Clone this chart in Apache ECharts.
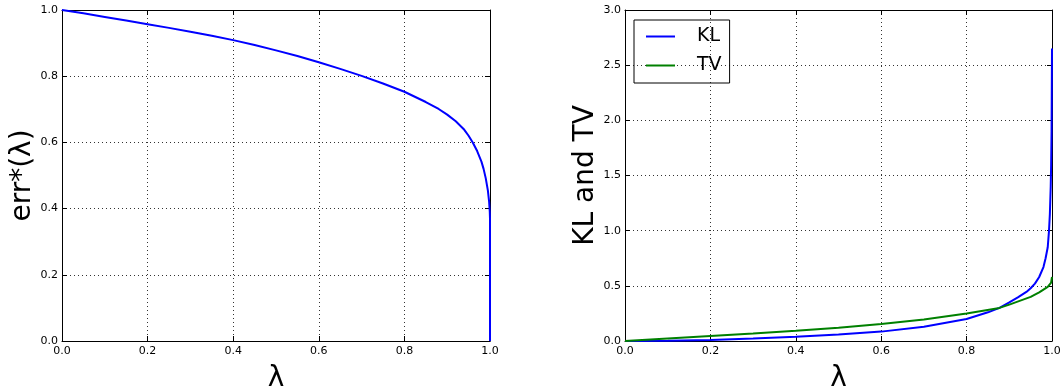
<!DOCTYPE html>
<html>
<head>
<meta charset="utf-8">
<script src="https://cdn.jsdelivr.net/npm/echarts@6/dist/echarts.min.js"></script>
<style>html,body{margin:0;padding:0;background:#fff}#c{width:1063px;height:391px}</style>
</head>
<body>
<div id="c"></div>
<script>
// Left panel: err*(lambda)
const errLambda = [0, 0.05, 0.1, 0.15, 0.2, 0.25, 0.3, 0.35, 0.4, 0.45, 0.5, 0.55, 0.6, 0.65, 0.7, 0.75, 0.8, 0.85, 0.88, 0.9, 0.92, 0.94, 0.95, 0.96, 0.97, 0.98, 0.985, 0.99, 0.995, 0.998, 0.9995, 1.0, 1.0];
const errValues = [1.0, 0.99, 0.979, 0.968, 0.957, 0.946, 0.934, 0.922, 0.909, 0.894, 0.878, 0.861, 0.842, 0.822, 0.801, 0.778, 0.753, 0.722, 0.701, 0.684, 0.664, 0.638, 0.62, 0.599, 0.574, 0.542, 0.52, 0.492, 0.455, 0.42, 0.39, 0.37, 0.0];
// Right panel: KL and TV
const klLambda = [0, 0.1, 0.2, 0.3, 0.4, 0.5, 0.6, 0.7, 0.8, 0.85, 0.877, 0.9, 0.92, 0.94, 0.95, 0.96, 0.97, 0.98, 0.985, 0.99, 0.993, 0.995, 0.997, 0.998, 0.999, 1.0];
const klValues = [0, 0.003, 0.01, 0.022, 0.039, 0.058, 0.085, 0.13, 0.2, 0.26, 0.30, 0.35, 0.395, 0.445, 0.478, 0.52, 0.58, 0.67, 0.75, 0.85, 1.0, 1.15, 1.4, 1.6, 1.9, 2.65];
const tvLambda = [0, 0.1, 0.2, 0.3, 0.4, 0.5, 0.6, 0.7, 0.8, 0.877, 0.9, 0.95, 0.97, 0.99, 0.998, 1.0];
const tvValues = [0, 0.022, 0.045, 0.068, 0.093, 0.12, 0.154, 0.195, 0.25, 0.30, 0.33, 0.40, 0.44, 0.49, 0.53, 0.58];
const xTicks = {min: 0, max: 1, interval: 0.2};
const yTicksLeft = {min: 0, max: 1, interval: 0.2};
const yTicksRight = {min: 0, max: 3, interval: 0.5};

const pairs = (xs, ys) => xs.map((x, i) => [x, ys[i]]);
const FONT = 'DejaVu Sans';
const lbl = {fontFamily: FONT, fontSize: 11, color: '#000'};
const nameStyle = {fontFamily: FONT, fontSize: 28, color: '#000'};
const gridLine = {show: true, lineStyle: {color: '#000', type: [1, 3], width: 1, opacity: 0.8}};
const axLine = {show: true, onZero: false, lineStyle: {color: '#000', width: 1}};
const tick = {show: true, inside: true, length: 5, lineStyle: {color: '#000'}};

function mainX(gi) {
  return {type: 'value', gridIndex: gi, ...xTicks, position: 'bottom',
    axisLine: axLine, axisTick: tick, splitLine: gridLine,
    axisLabel: {...lbl, margin: 5, formatter: v => v.toFixed(1)},
    name: 'λ', nameLocation: 'middle', nameGap: 24, nameTextStyle: nameStyle};
}
function topX(gi) {
  return {type: 'value', gridIndex: gi, ...xTicks, position: 'top',
    axisLine: axLine, axisTick: tick, splitLine: {show: false}, axisLabel: {show: false}};
}
function mainY(gi, t, name, gap) {
  return {type: 'value', gridIndex: gi, ...t, position: 'left',
    axisLine: axLine, axisTick: tick, splitLine: gridLine,
    axisLabel: {...lbl, margin: 4, formatter: v => v.toFixed(1)},
    name: name, nameLocation: 'middle', nameGap: gap, nameTextStyle: nameStyle};
}
function rightY(gi, t) {
  return {type: 'value', gridIndex: gi, ...t, position: 'right',
    axisLine: axLine, axisTick: tick, splitLine: {show: false}, axisLabel: {show: false}};
}

const chart = echarts.init(document.getElementById('c'), null, {renderer: 'canvas'});
chart.setOption({
  animation: false,
  backgroundColor: '#fff',
  grid: [
    {left: 62, right: 573, top: 10, bottom: 50, containLabel: false, outerBoundsMode: 'none'},
    {left: 625, right: 11, top: 10, bottom: 50, containLabel: false, outerBoundsMode: 'none'}
  ],
  xAxis: [mainX(0), topX(0), mainX(1), topX(1)],
  yAxis: [mainY(0, yTicksLeft, 'err*(λ)', 21), rightY(0, yTicksLeft),
          mainY(1, yTicksRight, 'KL and TV', 25), rightY(1, yTicksRight)],
  legend: {
    orient: 'vertical', left: 634, top: 20,
    data: ['KL', 'TV'],
    icon: 'rect', itemWidth: 29, itemHeight: 2, itemGap: 10,
    borderColor: '#000', borderWidth: 1, borderRadius: 0,
    padding: [7, 8, 8, 12],
    textStyle: {fontFamily: FONT, fontSize: 19, color: '#000', padding: [0, 0, 0, 17]}
  },
  series: [
    {name: 'err', type: 'line', xAxisIndex: 0, yAxisIndex: 0, data: pairs(errLambda, errValues),
     showSymbol: false, lineStyle: {color: '#0000ff', width: 2}, itemStyle: {color: '#0000ff'}},
    {name: 'KL', type: 'line', xAxisIndex: 2, yAxisIndex: 2, data: pairs(klLambda, klValues),
     showSymbol: false, lineStyle: {color: '#0000ff', width: 2}, itemStyle: {color: '#0000ff'}},
    {name: 'TV', type: 'line', xAxisIndex: 2, yAxisIndex: 2, data: pairs(tvLambda, tvValues),
     showSymbol: false, lineStyle: {color: '#008000', width: 2}, itemStyle: {color: '#008000'}}
  ]
});
</script>
</body>
</html>
